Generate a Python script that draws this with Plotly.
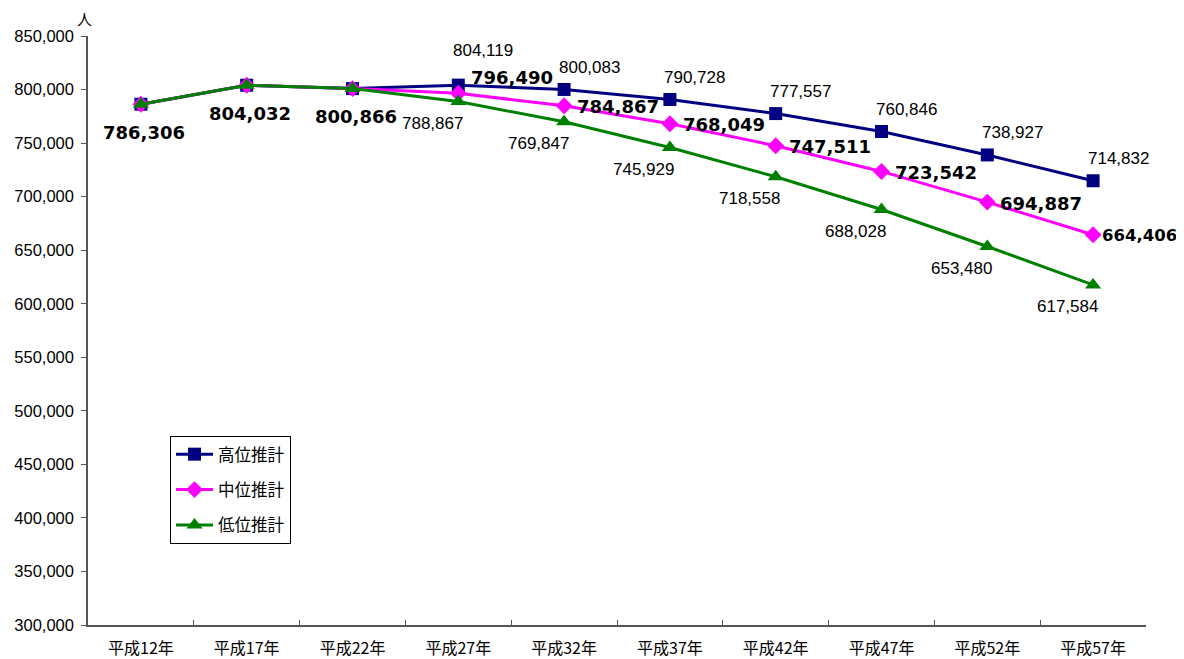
import plotly.graph_objects as go

categories = ["平成12年", "平成17年", "平成22年", "平成27年", "平成32年",
              "平成37年", "平成42年", "平成47年", "平成52年", "平成57年"]
high = [786306, 804032, 800866, 804119, 800083, 790728, 777557, 760846, 738927, 714832]
mid = [786306, 804032, 800866, 796490, 784867, 768049, 747511, 723542, 694887, 664406]
low = [786306, 804032, 800866, 788867, 769847, 745929, 718558, 688028, 653480, 617584]
series_names = ["高位推計", "中位推計", "低位推計"]
y_ticks = list(range(300000, 850001, 50000))

N_SHARED = 3  # first three points are common to all series


def fmt(v):
    return f"{v:,}"


label_font = dict(family="Liberation Sans, Arial", size=17, color="#000000")
bold_font = dict(family="DejaVu Sans", size=18, color="#000000")
bold_font_edge = dict(family="DejaVu Sans", size=16.5, color="#000000")

fig = go.Figure()
styles = [
    (high, "#000080", "square", 13),
    (mid, "#FF00FF", "diamond", 13),
    (low, "#008000", "triangle-up", 14),
]
for i, (vals, col, sym, sz) in enumerate(styles):
    fig.add_trace(go.Scatter(
        x=categories, y=vals, name=series_names[i], mode="lines+markers",
        line=dict(color=col, width=3),
        marker=dict(symbol=sym, size=sz, color=col),
        legendgroup=f"g{i}", cliponaxis=False,
    ))

annotations = []
# shared labels (bold, below)
for c, v in zip(categories[:N_SHARED], mid[:N_SHARED]):
    annotations.append(dict(x=c, y=v, xref="x", yref="y", text=f"<b>{fmt(v)}</b>",
                            showarrow=False, xanchor="center", yanchor="middle",
                            xshift=3, yshift=-28, font=bold_font))
# high labels (above right)
for j, (c, v) in enumerate(zip(categories[N_SHARED:], high[N_SHARED:])):
    annotations.append(dict(x=c, y=v, xref="x", yref="y", text=fmt(v),
                            showarrow=False, xanchor="center", yanchor="middle",
                            xshift=25, yshift=35 if j == 0 else 22, font=label_font))
# mid labels (bold, right)
n_mid = len(mid) - N_SHARED
for j, (c, v) in enumerate(zip(categories[N_SHARED:], mid[N_SHARED:])):
    last = j == n_mid - 1
    annotations.append(dict(x=c, y=v, xref="x", yref="y", text=f"<b>{fmt(v)}</b>",
                            showarrow=False, xanchor="left", yanchor="middle",
                            xshift=7 if last else 11,
                            yshift=16 if j == 0 else -1,
                            font=bold_font_edge if last else bold_font))
# low labels (below left)
for c, v in zip(categories[N_SHARED:], low[N_SHARED:]):
    annotations.append(dict(x=c, y=v, xref="x", yref="y", text=fmt(v),
                            showarrow=False, xanchor="center", yanchor="middle",
                            xshift=-26, yshift=-22, font=label_font))
annotations.append(dict(
    text="人", xref="paper", yref="paper", x=-0.003, y=1.03,
    xanchor="center", yanchor="middle", showarrow=False,
    font=dict(family="Noto Sans CJK JP", size=15, color="#000000"),
))

fig.update_layout(
    width=1184, height=659,
    margin=dict(l=80, r=46, t=28, b=42, autoexpand=False),
    plot_bgcolor="white", paper_bgcolor="white",
    showlegend=True,
    legend=dict(
        x=0.0775, y=0.321, xanchor="left", yanchor="top",
        bordercolor="#000000", borderwidth=1, bgcolor="white",
        font=dict(family="Noto Sans CJK JP", size=16.5, color="#000000"),
        tracegroupgap=11, traceorder="grouped", itemwidth=37,
    ),
    xaxis=dict(
        type="category", range=[-0.5, 9.5], tickson="boundaries",
        ticks="inside", ticklen=5, tickcolor="#555555",
        showline=True, linecolor="#555555", linewidth=1.5,
        showgrid=False, zeroline=False, automargin=False,
        tickfont=dict(family="Noto Sans CJK JP", size=16, color="#000000"),
        ticklabelstandoff=8,
    ),
    yaxis=dict(
        range=[300000, 850000], tickvals=y_ticks,
        ticktext=[fmt(v) for v in y_ticks],
        ticks="outside", ticklen=5, tickcolor="#555555",
        showline=True, linecolor="#555555", linewidth=1.5,
        showgrid=False, zeroline=False, automargin=False,
        tickfont=dict(family="Liberation Sans, Arial", size=16.5, color="#000000"),
        ticklabelstandoff=4,
    ),
    annotations=annotations,
)

fig.write_html("out.html")
